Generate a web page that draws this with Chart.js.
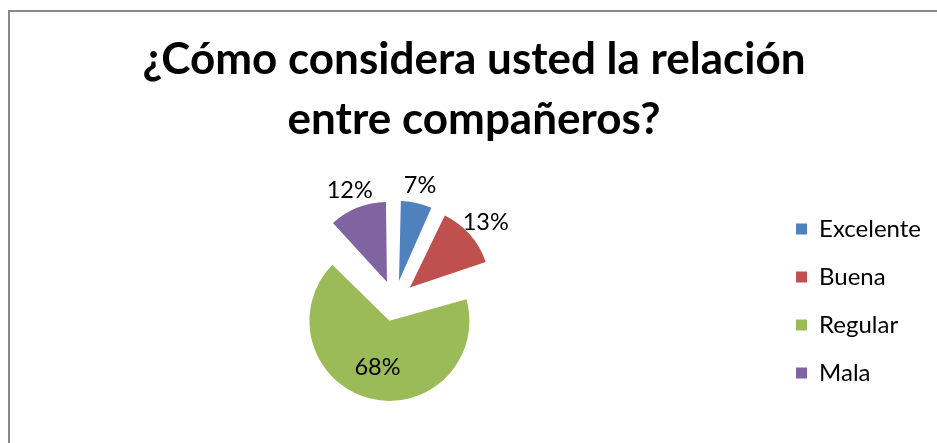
<!DOCTYPE html>
<html lang="es">
<head>
<meta charset="utf-8">
<title>Relación entre compañeros</title>
<script src="https://cdn.jsdelivr.net/npm/chart.js@4.4.0/dist/chart.umd.min.js"></script>
<style>
  html, body { margin: 0; padding: 0; background: #fff; overflow: hidden; }
  body { width: 937px; height: 443px; position: relative; }
  .chart-frame {
    position: absolute; left: 8px; top: 10px;
    width: 936px; height: 440px;
    border-left: 2px solid #898989;
    border-top: 2px solid #898989;
  }
  .chart-frame canvas { display: block; }
</style>
</head>
<body>
<div class="chart-frame"><canvas id="pieChart" width="936" height="440"></canvas></div>
<script>
/* ── Data ── */
const TITLE_LINES = ['¿Cómo considera usted la relación', 'entre compañeros?'];
const CATEGORIES  = ['Excelente', 'Buena', 'Regular', 'Mala'];
const PERCENTS    = [7, 13, 68, 12];
const COLORS      = ['#4F81BD', '#C0504D', '#9BBB59', '#8064A2'];

const EXPLODE = 82;      // chart.js moves a slice by offset / 4
const RADIUS  = 80;
const FONT    = 'Lato';

/* ── Keep every exploded slice the same size ── */
// ArcElement grows the radius of exploded slices; take that back out.
const evenRadius = {
  id: 'evenRadius',
  afterDatasetUpdate(chart, args) {
    const R = args.meta.controller.outerRadius;
    args.meta.data.forEach(arc => {
      const fix = 1 - Math.sin(Math.min(Math.PI, arc.circumference));
      arc.outerRadius = R - (EXPLODE / 4) * fix;
    });
  },
};

/* ── Percentage labels ── */
const pctLabels = {
  id: 'pctLabels',
  afterDatasetsDraw(chart) {
    const meta  = chart.getDatasetMeta(0);
    const R     = meta.controller.outerRadius;
    const total = PERCENTS.reduce((a, b) => a + b, 0);
    const ctx   = chart.ctx;

    ctx.save();
    ctx.font = '23.5px ' + FONT;
    ctx.fillStyle = '#000';
    ctx.textAlign = 'center';
    ctx.textBaseline = 'middle';

    meta.data.forEach((arc, i) => {
      const mid = (arc.startAngle + arc.endAngle) / 2;
      const dx = Math.cos(mid), dy = Math.sin(mid);
      const ax = arc.x + dx * EXPLODE / 4;
      const ay = arc.y + dy * EXPLODE / 4;
      const text = PERCENTS[i] + '%';
      let x, y;
      if (PERCENTS[i] / total < 0.3) {
        // outside, box edge just past the rim
        const w = ctx.measureText(text).width * 0.7, h = 26;
        x = ax + dx * (R + 5) + dx * w / 2;
        y = ay + dy * (R + 5) + dy * h / 2;
      } else {
        x = ax + dx * R * 0.6;
        y = ay + dy * R * 0.6;
      }
      ctx.fillText(text, x, y);
    });
    ctx.restore();
  },
};

/* ── Chart ── */
function initPie() {
  const ctx = document.getElementById('pieChart');
  if (!ctx) return;

  return new Chart(ctx, {
    type: 'pie',
    data: {
      labels: CATEGORIES,
      datasets: [{
        data: PERCENTS,
        backgroundColor: COLORS,
        borderWidth: 0,
        offset: EXPLODE,
        hoverOffset: 0,
      }],
    },
    options: {
      responsive: false,
      animation: false,
      radius: RADIUS,
      layout: { padding: { left: 7, right: 15, top: 0, bottom: 13.5 } },
      plugins: {
        title: {
          display: true,
          text: TITLE_LINES,
          color: '#000',
          font: { family: FONT, size: 44, weight: 'bold', lineHeight: 60 / 44 },
          padding: { top: 18, bottom: 13.5 },
        },
        legend: {
          position: 'right',
          fullSize: false,
          labels: {
            color: '#000',
            font: { family: FONT, size: 24 },
            boxWidth: 11,
            boxHeight: 11,
            padding: 24,
          },
        },
        tooltip: { enabled: false },
      },
    },
    plugins: [evenRadius, pctLabels],
  });
}

if (document.readyState === 'loading') {
  document.addEventListener('DOMContentLoaded', initPie);
} else {
  initPie();
}
</script>
</body>
</html>
